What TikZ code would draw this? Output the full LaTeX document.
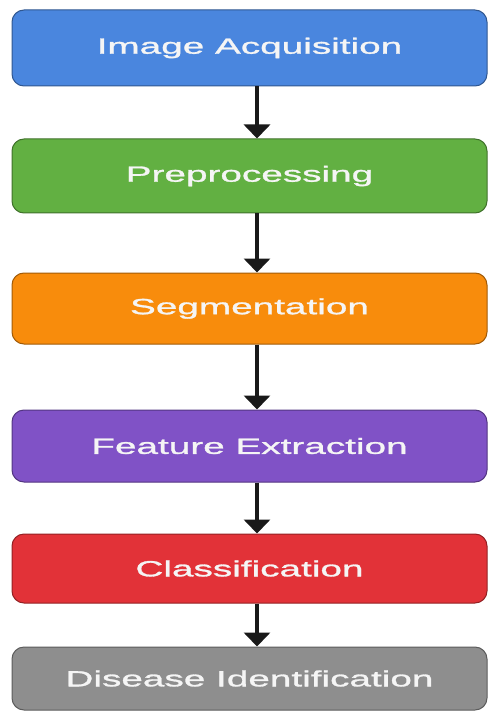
\documentclass[tikz,border=0pt]{standalone}
\usepackage{fontspec}
\newfontfamily\stagefont[FakeStretch=1.76, FakeBold=1.3]{Liberation Sans}
\usetikzlibrary{arrows.meta}
\definecolor{acqblue}{RGB}{74,134,222}
\definecolor{preggreen}{RGB}{98,176,66}
\definecolor{segorange}{RGB}{248,140,12}
\definecolor{featpurple}{RGB}{128,82,198}
\definecolor{clsred}{RGB}{226,50,56}
\definecolor{disgray}{RGB}{142,142,142}
\tikzset{
  stage/.style={
    rectangle,
    rounded corners=12pt,
    draw=#1!65!black,
    line width=1pt,
    fill=#1,
    minimum width=475pt,
    inner sep=0pt,
    text=white!96!black,
    font=\stagefont\fontsize{22}{26}\selectfont
  },
  flow/.style={
    -{Triangle[length=14pt, width=26pt]},
    line width=4pt,
    color=black!90
  }
}
\begin{document}
\begin{tikzpicture}[x=1pt, y=1pt]
    \useasboundingbox (0,0) rectangle (488,-711);

    % stages, top to bottom
    \node[stage=acqblue, minimum height=76pt] (acq) at (249.5,-48) {Image Acquisition};
    \node[stage=preggreen, minimum height=74pt] (pre) at (249.5,-176) {Preprocessing};
    \node[stage=segorange, minimum height=71pt] (seg) at (249.5,-308.5) {Segmentation};
    \node[stage=featpurple, minimum height=72pt] (feat) at (249.5,-446) {Feature Extraction};
    \node[stage=clsred, minimum height=69pt] (cls) at (249.5,-568.5) {Classification};
    \node[stage=disgray, minimum height=63pt] (dis) at (249.5,-678.5) {Disease Identification};

    % arrows between stages
    \foreach \a/\b in {acq/pre, pre/seg, seg/feat, feat/cls, cls/dis}
      \draw[flow] ([xshift=7.5pt]\a.south) -- ([xshift=7.5pt]\b.north);

  \end{tikzpicture}
\end{document}
